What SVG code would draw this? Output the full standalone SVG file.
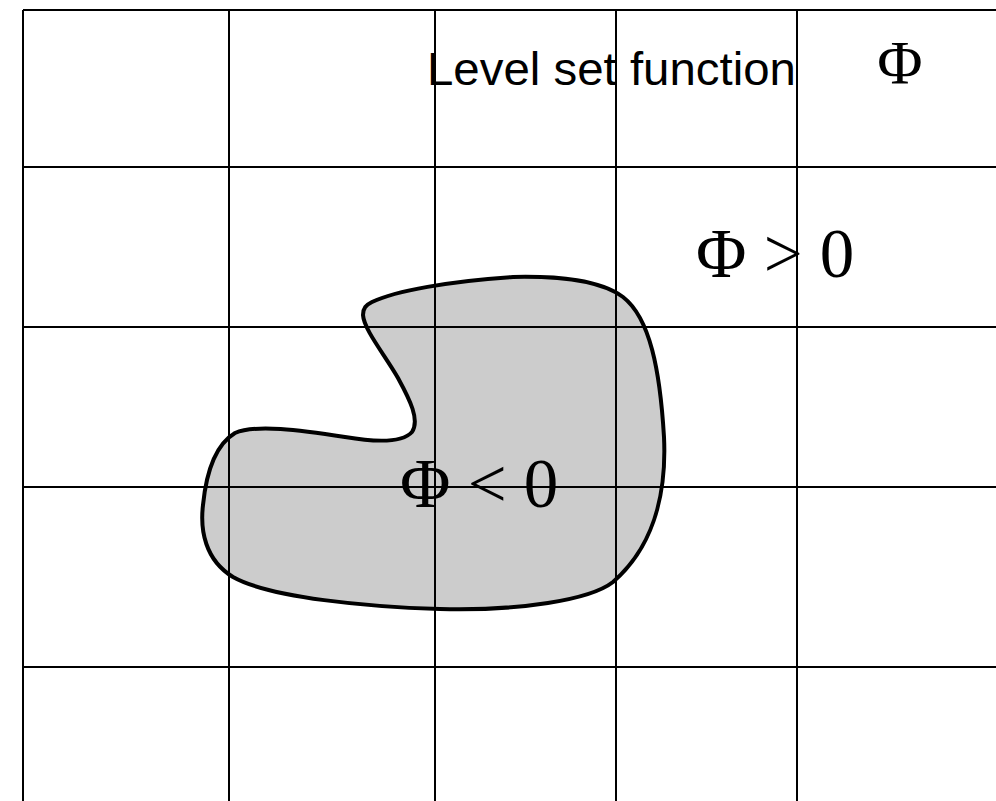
<svg xmlns="http://www.w3.org/2000/svg" width="996" height="801" viewBox="0 0 996 801">
<style>
.grid line{stroke:#000;stroke-width:2}
.region{fill:#cccccc;stroke:#000;stroke-width:4}
.sans{font-family:"Liberation Sans",Arial,sans-serif;fill:#000}
.serif{font-family:"Liberation Serif","Times New Roman",serif;fill:#000}
</style>
<rect width="996" height="801" fill="#fff"/>
<g id="region-inside">
<path class="region" d="M 372,302 C 395,291 450,281 513,277 C 560,276 600,280 623,297 C 650,318 660,370 664,437 C 667,500 650,550 613,582 C 590,600 520,611 440,609 C 370,607 270,598 233,577 C 205,560 200,530 203,505 C 206,475 215,445 235,433 C 255,424 300,430 345,437 C 380,443 403,442 412,432 C 420,420 410,400 398,378 C 385,355 364,330 363,315 C 363,308 366,305 372,302 Z"/>
</g>
<g id="grid" class="grid">
<line x1="23" y1="10" x2="996" y2="10"/>
<line x1="23" y1="167" x2="996" y2="167"/>
<line x1="23" y1="327" x2="996" y2="327"/>
<line x1="23" y1="487" x2="996" y2="487"/>
<line x1="23" y1="667" x2="996" y2="667"/>
<line x1="23" y1="10" x2="23" y2="801"/>
<line x1="229" y1="10" x2="229" y2="801"/>
<line x1="435" y1="10" x2="435" y2="801"/>
<line x1="616" y1="10" x2="616" y2="801"/>
<line x1="797" y1="10" x2="797" y2="801"/>
</g>
<g id="title">
<text class="sans" x="427" y="85" font-size="46" textLength="369" lengthAdjust="spacingAndGlyphs">Level set function</text>
<text class="serif" x="900" y="83" font-size="62" text-anchor="middle">Φ</text>
</g>
<g id="label-outside">
<text class="serif" x="696" y="277" font-size="69">Φ &gt; 0</text>
</g>
<g id="label-inside">
<text class="serif" x="400" y="507" font-size="69">Φ &lt; 0</text>
</g>
</svg>
